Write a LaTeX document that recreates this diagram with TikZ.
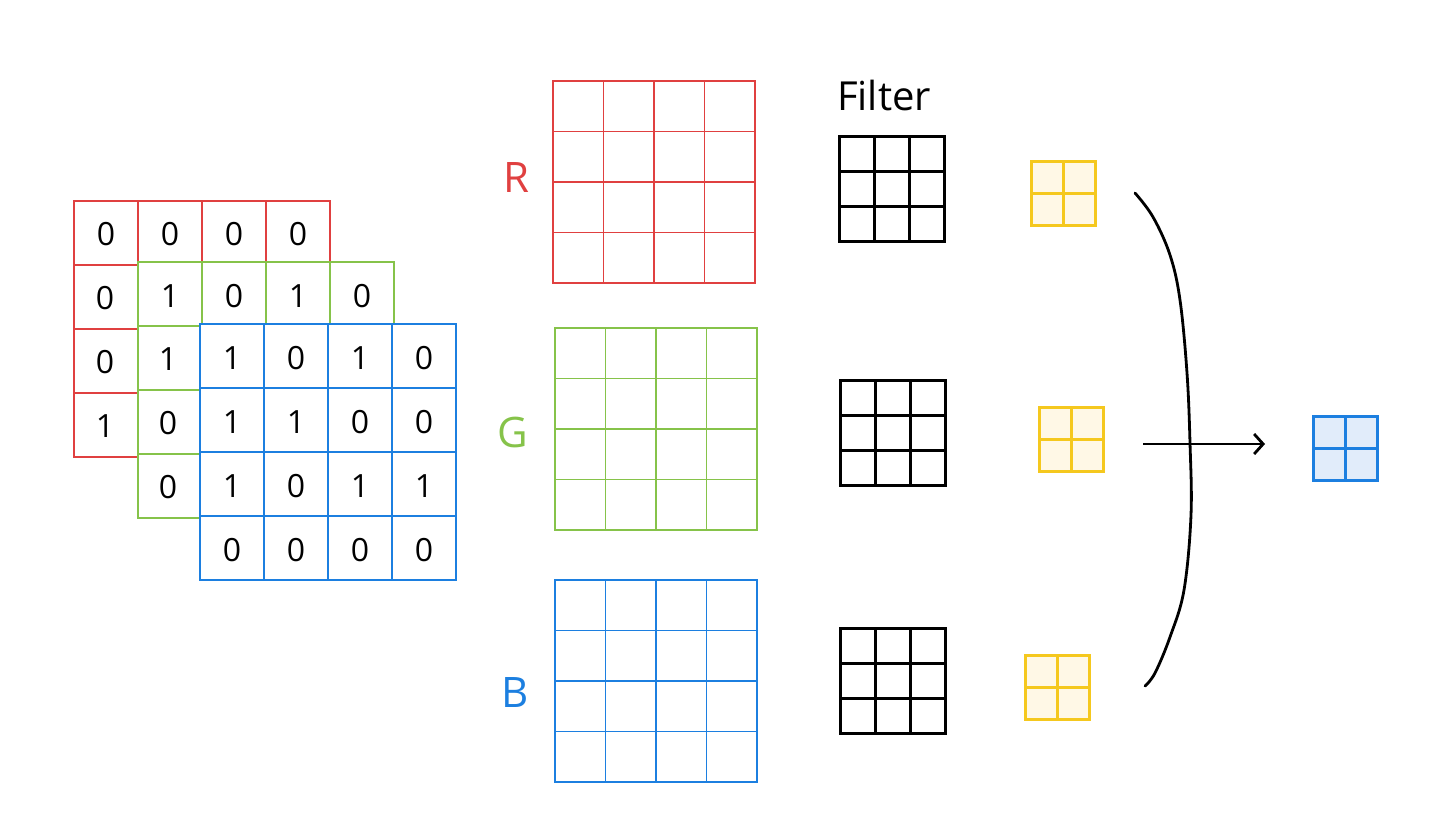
\documentclass[tikz,border=0pt]{standalone}
\usepackage{fontspec}
\setmainfont{Open Sans}
\usetikzlibrary{calc,arrows.meta}
\definecolor{cred}{HTML}{E04040}
\definecolor{cgreen}{HTML}{86C34A}
\definecolor{cblue}{HTML}{1C7FE0}
\definecolor{cyel}{HTML}{F5C81E}
\definecolor{cyelfill}{HTML}{FFF8E6}
\definecolor{cbluefill}{HTML}{E1ECFA}
\newcommand\gridlines[4]{%
  \foreach \k in {1,...,#3}{%
    \draw[#4] ($(#1.north west)!{\k/#2}!(#1.north east)$) -- ($(#1.south west)!{\k/#2}!(#1.south east)$);
    \draw[#4] ($(#1.north west)!{\k/#2}!(#1.south west)$) -- ($(#1.north east)!{\k/#2}!(#1.south east)$);
  }}
\tikzset{
  box/.style={rectangle, inner sep=0pt, outer sep=0pt},
  stackgrid/.style={box, fill=white, draw=#1, line width=2pt, minimum size=256pt},
  chgrid/.style={box, draw=#1, line width=1.5pt, minimum size=202pt},
  filt/.style={box, draw=black, line width=3pt, minimum size=105pt},
  ybox/.style={box, draw=cyel, fill=cyelfill, line width=3pt, minimum size=64pt},
  obox/.style={box, draw=cblue, fill=cbluefill, line width=3pt, minimum size=64pt},
  digit/.style={font=\fontsize{32}{36}\selectfont, inner sep=0pt},
  chlabel/.style={font=\fontsize{42}{46}\selectfont, inner sep=0pt},
}
\begin{document}
\begin{tikzpicture}[x=1pt,y=-1pt]
\useasboundingbox (0,0) rectangle (1440,831);
% stacked input
\node[stackgrid=cred] (RS) at (202,329) {};
\gridlines{RS}{4}{3}{cred, line width=2pt}
\foreach \v [count=\i] in {0,0,0,0} \node[digit] (r1\i) at ({74+64*(\i-0.5)},234) {\v};
\foreach \v [count=\j from 2] in {0,0,1} \node[digit] (r\j1) at (105,{202+64*(\j-0.5)}) {\v};
\node[stackgrid=cgreen] (GS) at (266,390) {};
\gridlines{GS}{4}{3}{cgreen, line width=2pt}
\foreach \v [count=\i] in {1,0,1,0} \node[digit] (g1\i) at ({138+64*(\i-0.5)},296) {\v};
\foreach \v [count=\j from 2] in {1,0,0} \node[digit] (g\j1) at (168,{263+64*(\j-0.5)}) {\v};
\node[stackgrid=cblue] (BS) at (328,452) {};
\gridlines{BS}{4}{3}{cblue, line width=2pt}
\foreach \row [count=\j] in {{1,0,1,0},{1,1,0,0},{1,0,1,1},{0,0,0,0}}
  \foreach \v [count=\i] in \row
    \node[digit] (b\j\i) at ({200+64*(\i-0.5)},{326+64*(\j-0.5)}) {\v};
% channels
\node[chgrid=cred] (R) at (654,182) {};
\gridlines{R}{4}{3}{cred, line width=1.5pt}
\node[chlabel, text=cred] (Rl) at (516,178) {R};
\node[chgrid=cgreen] (G) at (656,429) {};
\gridlines{G}{4}{3}{cgreen, line width=1.5pt}
\node[chlabel, text=cgreen] (Gl) at (513,432) {G};
\node[chgrid=cblue] (B) at (656,681) {};
\gridlines{B}{4}{3}{cblue, line width=1.5pt}
\node[chlabel, text=cblue] (Bl) at (515,692) {B};
% filters
\node[font=\fontsize{40}{44}\selectfont] (ft) at (884,95) {Filter};
\node[filt] (F1) at (892,189) {};
\gridlines{F1}{3}{2}{black, line width=3pt}
\node[filt] (F2) at (893,433) {};
\gridlines{F2}{3}{2}{black, line width=3pt}
\node[filt] (F3) at (893,681) {};
\gridlines{F3}{3}{2}{black, line width=3pt}
% feature maps
\node[ybox] (Y1) at (1063,193) {};
\gridlines{Y1}{2}{1}{cyel, line width=3pt}
\node[ybox] (Y2) at (1071,439) {};
\gridlines{Y2}{2}{1}{cyel, line width=3pt}
\node[ybox] (Y3) at (1057,687) {};
\gridlines{Y3}{2}{1}{cyel, line width=3pt}
% brace
\draw[line width=2.8pt, line cap=round] plot[smooth, tension=0.6] coordinates
 {(1135,193) (1153,217) (1170,255) (1180,300) (1187,373) (1190,443) (1191,515) (1184,590) (1170,637) (1155,673) (1145,686)};
% arrow and output
\coordinate (a0) at (1143,444);
\coordinate (a1) at (1265,444);
\draw[line width=2.8pt, -{Straight Barb[length=9pt,width=20pt,line width=2.8pt]}] (a0) -- (a1);
\node[obox] (O) at (1345,448) {};
\gridlines{O}{2}{1}{cblue, line width=3pt}
\end{tikzpicture}
\end{document}
